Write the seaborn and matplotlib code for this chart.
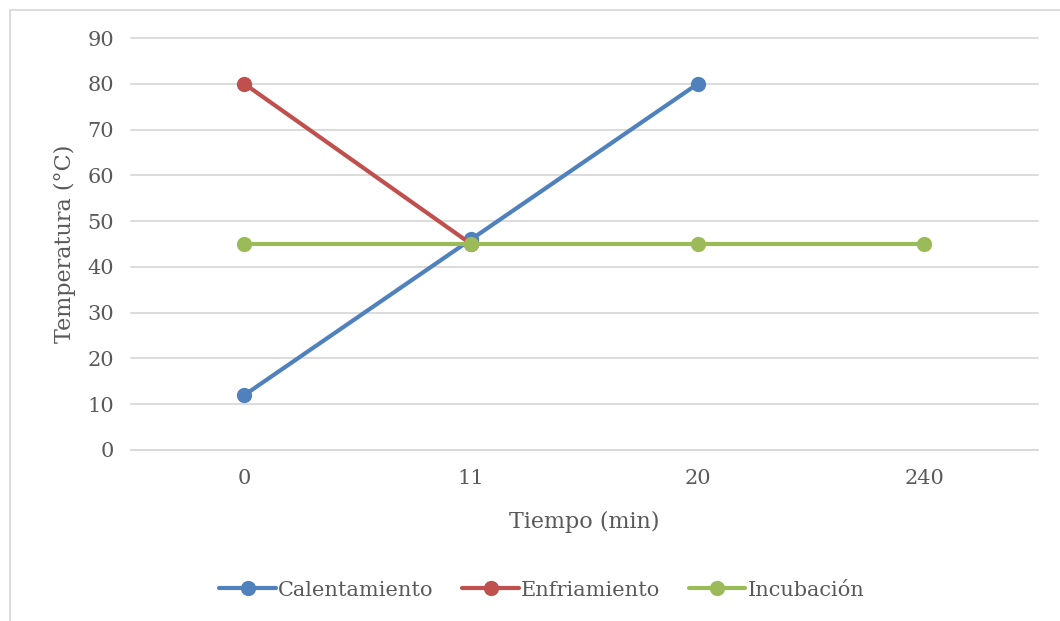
import matplotlib
matplotlib.use('Agg')
import matplotlib.pyplot as plt
import matplotlib.patches as patches
import seaborn as sns
import pandas as pd

# datos
tiempos = ['0', '11', '20', '240']
calentamiento = [12, 46, 80]
enfriamiento = [80, 45]
incubacion = [45, 45, 45, 45]

series = {
    'Calentamiento': calentamiento,
    'Enfriamiento': enfriamiento,
    'Incubación': incubacion,
}
colores = {'Calentamiento': '#4f81bd', 'Enfriamiento': '#c0504d', 'Incubación': '#9bbb59'}

filas = []
for nombre, valores in series.items():
    for t, v in zip(tiempos, valores):
        filas.append({'Tiempo': t, 'Temperatura': v, 'Serie': nombre})
df = pd.DataFrame(filas)

sns.set_style('white')
plt.rcParams['font.family'] = ['DejaVu Serif']
gris = '#595959'

fig = plt.figure(figsize=(10.6, 6.21), dpi=100)
ax = fig.add_axes([0.1236, 0.2754, 0.8555, 0.6634])

sns.lineplot(data=df, x='Tiempo', y='Temperatura', hue='Serie', palette=colores,
             marker='o', markersize=11, markeredgewidth=0, linewidth=3,
             sort=False, ax=ax)

ax.set_xlim(-0.5, 3.5)
ax.set_ylim(0, 90)
ax.set_yticks(range(0, 91, 10))
ax.yaxis.grid(True, color='#d9d9d9', linewidth=1.3)
for g in ax.get_ygridlines():
    g.set_clip_on(False)
ax.set_axisbelow(True)
for lado in ['top', 'right', 'left']:
    ax.spines[lado].set_visible(False)
ax.spines['bottom'].set_color('#d9d9d9')
ax.spines['bottom'].set_linewidth(1.3)
ax.tick_params(axis='y', length=0, labelsize=15, labelcolor=gris, pad=12)
ax.tick_params(axis='x', length=0, labelsize=15, labelcolor=gris, pad=14)
ax.set_xlabel('Tiempo (min)', fontsize=16, color=gris, labelpad=16)
ax.set_ylabel('Temperatura (°C)', fontsize=16, color=gris, labelpad=8)

ax.legend(loc='upper center', bbox_to_anchor=(0.453, -0.272), ncol=3, frameon=False,
          fontsize=15, labelcolor=gris, handlelength=2.7, handletextpad=0.1, columnspacing=1.4)

# borde del grafico
fig.patches.append(patches.Rectangle((9.5 / 1060, -0.1), 1.2, (621 - 9.5) / 621 + 0.1,
                                     transform=fig.transFigure, fill=False,
                                     edgecolor='#d9d9d9', linewidth=1.3))

fig.savefig('out.png', dpi=100)
